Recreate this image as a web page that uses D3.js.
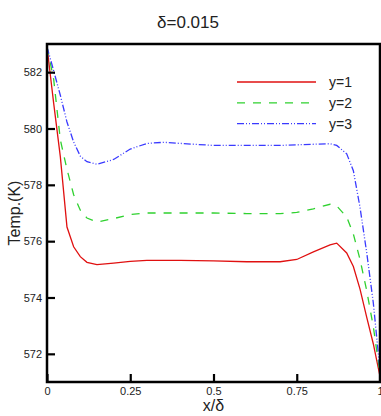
<!DOCTYPE html>
<html>
<head>
<meta charset="utf-8">
<script src="https://cdn.jsdelivr.net/npm/d3@7"></script>
<style>
  body { margin: 0; background: #fff; }
  text { font-family: "Liberation Sans", Arial, sans-serif; fill: #222; }
</style>
</head>
<body>
<div id="chart"></div>
<script>
// x/delta positions shared by the three curves
var xPos = [0, 0.02, 0.04, 0.06, 0.08, 0.1, 0.12, 0.15, 0.2, 0.25, 0.3, 0.35, 0.4, 0.5,
            0.6, 0.7, 0.75, 0.8, 0.85, 0.87, 0.9, 0.92, 0.94, 0.96, 0.98, 1.0];

var tempY1 = [582.9, 580.9, 579.0, 576.5, 575.8, 575.45, 575.25, 575.17, 575.22, 575.28, 575.32, 575.32, 575.32, 575.3,
              575.27, 575.27, 575.35, 575.62, 575.87, 575.93, 575.58, 575.1, 574.3, 573.3, 572.35, 571.2];
var tempY2 = [582.9, 581.75, 579.6, 578.55, 577.65, 577.1, 576.82, 576.68, 576.8, 576.95, 577.0, 577.0, 577.0, 577.0,
              576.98, 576.98, 577.02, 577.15, 577.31, 577.25, 576.86, 576.25, 575.35, 574.25, 572.96, 571.3];
var tempY3 = [582.9, 582.05, 581.18, 580.23, 579.52, 579.02, 578.82, 578.73, 578.9, 579.27, 579.47, 579.51, 579.47, 579.4,
              579.4, 579.4, 579.42, 579.44, 579.46, 579.4, 579.1, 578.5, 577.2, 575.6, 573.8, 571.4];

var seriesNames = ["y=1", "y=2", "y=3"];
var xTicks = [0, 0.25, 0.5, 0.75, 1];
var xTickLabels = ["0", "0.25", "0.5", "0.75", "1"];
var yTicks = [572, 574, 576, 578, 580, 582];

var styles = [
    { color: "#e01010", dash: null },
    { color: "#2fd12f", dash: "8,8" },
    { color: "#3a3aff", dash: "7,2,1,2,1,2" }
];

var margin = { top: 44, right: 1, bottom: 34, left: 47 };
var W = 381, H = 416;
var width = W - margin.left - margin.right,
    height = H - margin.top - margin.bottom;

var svg = d3.select("#chart").append("svg")
    .attr("width", W).attr("height", H);

var g = svg.append("g")
    .attr("transform", "translate(" + margin.left + "," + margin.top + ")");

var x = d3.scaleLinear().domain([0, 1]).range([0, width]);
var y = d3.scaleLinear().domain([571, 583]).range([height, 0]);

g.append("clipPath").attr("id", "clip")
  .append("rect").attr("width", width).attr("height", height);

var line = d3.line()
    .x(function (d) { return x(d[0]); })
    .y(function (d) { return y(d[1]); });

var allSeries = [tempY1, tempY2, tempY3];

allSeries.forEach(function (vals, i) {
    var pts = xPos.map(function (xv, j) { return [xv, vals[j]]; });
    g.append("path")
        .datum(pts)
        .attr("clip-path", "url(#clip)")
        .attr("fill", "none")
        .attr("stroke", styles[i].color)
        .attr("stroke-width", 1.3)
        .attr("stroke-dasharray", styles[i].dash)
        .attr("d", line);
});

// axes, ticks pointing inward
var yAxis = g.append("g")
    .call(d3.axisLeft(y).tickValues(yTicks).tickSizeInner(-8).tickSizeOuter(0).tickPadding(5));
var xAxis = g.append("g")
    .attr("transform", "translate(0," + height + ")")
    .call(d3.axisBottom(x).tickValues(xTicks).tickSizeInner(-8).tickSizeOuter(0).tickPadding(5)
        .tickFormat(function (d, i) { return xTickLabels[i]; }));

[yAxis, xAxis].forEach(function (a) {
    a.select(".domain").remove();
    a.selectAll(".tick line").attr("stroke", "#000").attr("stroke-width", 2.2);
    a.selectAll(".tick text").style("font-size", "11px").attr("fill", "#222");
});

// frame
g.append("rect")
    .attr("width", width).attr("height", height)
    .attr("fill", "none")
    .attr("stroke", "#000")
    .attr("stroke-width", 2.5);

// legend
var legend = g.append("g").attr("transform", "translate(190,38)");
seriesNames.forEach(function (name, i) {
    var row = legend.append("g").attr("transform", "translate(0," + (i * 20.8) + ")");
    row.append("line")
        .attr("x1", 0).attr("x2", 79)
        .attr("stroke", styles[i].color)
        .attr("stroke-width", 1.3)
        .attr("stroke-dasharray", styles[i].dash);
    row.append("text")
        .attr("x", 92).attr("y", 5)
        .style("font-size", "14px")
        .text(name);
});

// title and axis labels
svg.append("text")
    .attr("x", 188).attr("y", 28)
    .attr("text-anchor", "middle")
    .style("font-size", "17px")
    .text("δ=0.015");

svg.append("text")
    .attr("x", margin.left + width / 2).attr("y", 411)
    .attr("text-anchor", "middle")
    .style("font-size", "16px")
    .text("x/δ");

svg.append("text")
    .attr("transform", "translate(20," + (margin.top + height / 2) + ") rotate(-90)")
    .attr("text-anchor", "middle")
    .style("font-size", "16px")
    .text("Temp.(K)");
</script>
</body>
</html>
